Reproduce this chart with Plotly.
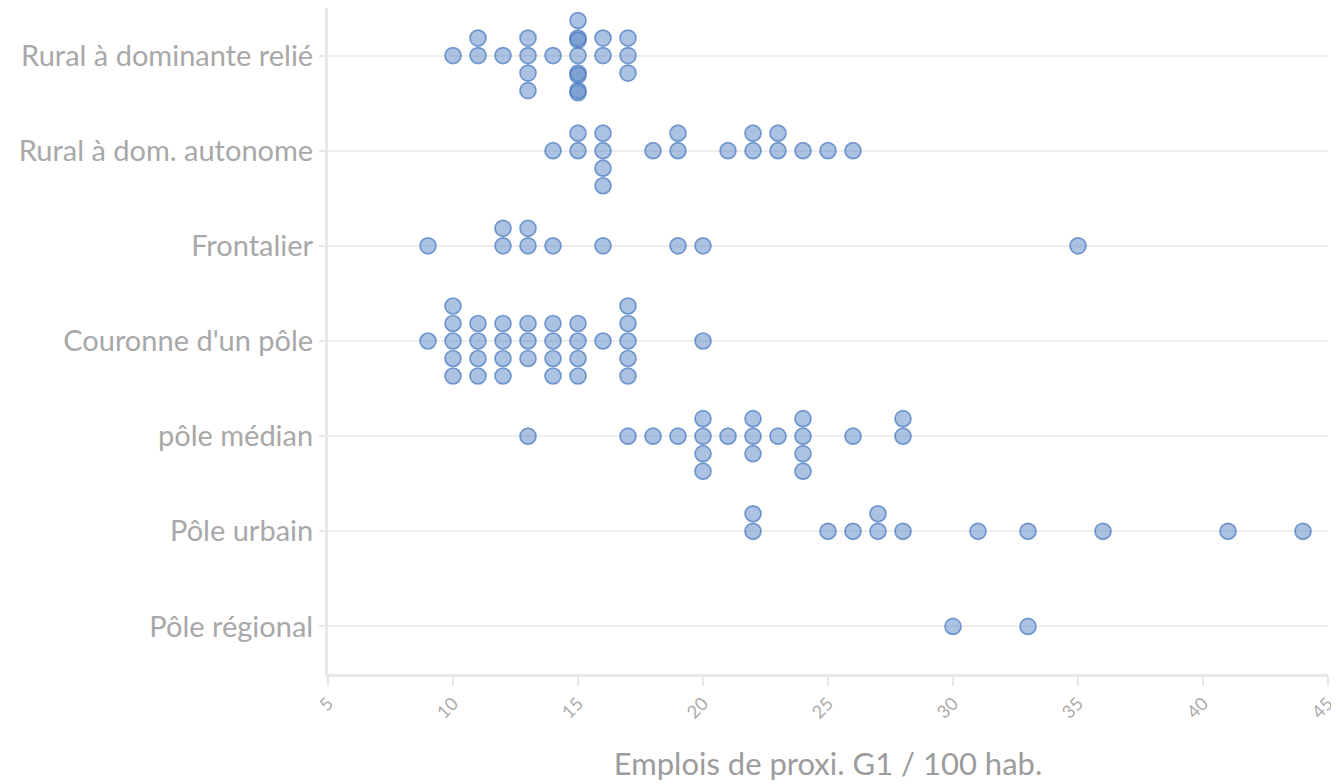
import plotly.graph_objects as go

# categories, bottom to top
categories = [
    "Pôle régional",
    "Pôle urbain",
    "pôle médian",
    "Couronne d'un pôle",
    "Frontalier",
    "Rural à dom. autonome",
    "Rural à dominante relié",
]

pole_regional = [30, 33]
pole_urbain = [22, 22, 25, 26, 27, 27, 28, 31, 33, 36, 41, 44]
pole_median = [13, 17, 18, 19, 20, 20, 20, 20, 21, 22, 22, 22, 23,
               24, 24, 24, 24, 26, 28, 28]
couronne = [9, 10, 10, 10, 10, 10, 11, 11, 11, 11, 12, 12, 12, 12,
            13, 13, 13, 14, 14, 14, 14, 15, 15, 15, 15, 16,
            17, 17, 17, 17, 17, 20]
frontalier = [9, 12, 12, 13, 13, 14, 16, 19, 20, 35]
rural_autonome = [14, 15, 15, 16, 16, 16, 16, 18, 19, 19, 21, 22, 22,
                  23, 23, 24, 25, 26]
rural_relie = [10, 11, 11, 12, 13, 13, 13, 13, 14, 15, 15, 15, 15,
               15, 15, 15, 15, 16, 16, 17, 17, 17]

series = [pole_regional, pole_urbain, pole_median, couronne,
          frontalier, rural_autonome, rural_relie]

STEP = 0.184      # vertical spacing of stacked dots (category units)
ORDER = [0, 1, -1, -2, 2]


def swarm(values, base):
    """Stack equal values around the category line."""
    seen = {}
    ys = []
    for v in values:
        i = seen.get(v, 0)
        seen[v] = i + 1
        if i < len(ORDER):
            ys.append(base + ORDER[i] * STEP)
        else:
            lvl = ORDER[1 + (i - len(ORDER)) % 4]
            ys.append(base + lvl * STEP - 0.022)
    return ys


fig = go.Figure()
for idx, vals in enumerate(series):
    fig.add_trace(
        go.Scatter(
            x=vals,
            y=swarm(vals, idx),
            mode="markers",
            marker=dict(
                size=16,
                color="rgba(80,128,195,0.48)",
                line=dict(color="rgba(72,122,192,0.72)", width=1.7),
            ),
            showlegend=False,
            hoverinfo="x",
        )
    )

# page body adds an 8px margin, so the figure is sized to fit the window
fig.update_layout(
    width=1331,
    height=776,
    margin=dict(l=320, r=11, t=0, b=110),
    plot_bgcolor="white",
    paper_bgcolor="white",
    font=dict(family="Lato", color="#a8a8a8"),
    xaxis=dict(
        range=[5, 45],
        tick0=5,
        dtick=5,
        showgrid=False,
        zeroline=False,
        showline=True,
        linecolor="#e8e8e8",
        linewidth=3,
        ticks="outside",
        ticklen=9,
        tickwidth=2,
        tickcolor="#e8e8e8",
        tickangle=-45,
        tickfont=dict(size=18, color="#ababab"),
        title=dict(
            text="Emplois de proxi. G1 / 100 hab.",
            font=dict(size=31, color="#9c9c9c"),
            standoff=32,
        ),
    ),
    yaxis=dict(
        range=[-0.5, 6.5],
        tickmode="array",
        tickvals=list(range(len(categories))),
        ticktext=categories,
        showgrid=True,
        gridcolor="#efefef",
        gridwidth=1.5,
        zeroline=False,
        showline=True,
        linecolor="#e8e8e8",
        linewidth=3,
        ticks="outside",
        ticklen=6,
        tickwidth=2,
        tickcolor="#e8e8e8",
        tickfont=dict(size=29, color="#a8a8a8"),
    ),
)

fig.write_html("out.html")
